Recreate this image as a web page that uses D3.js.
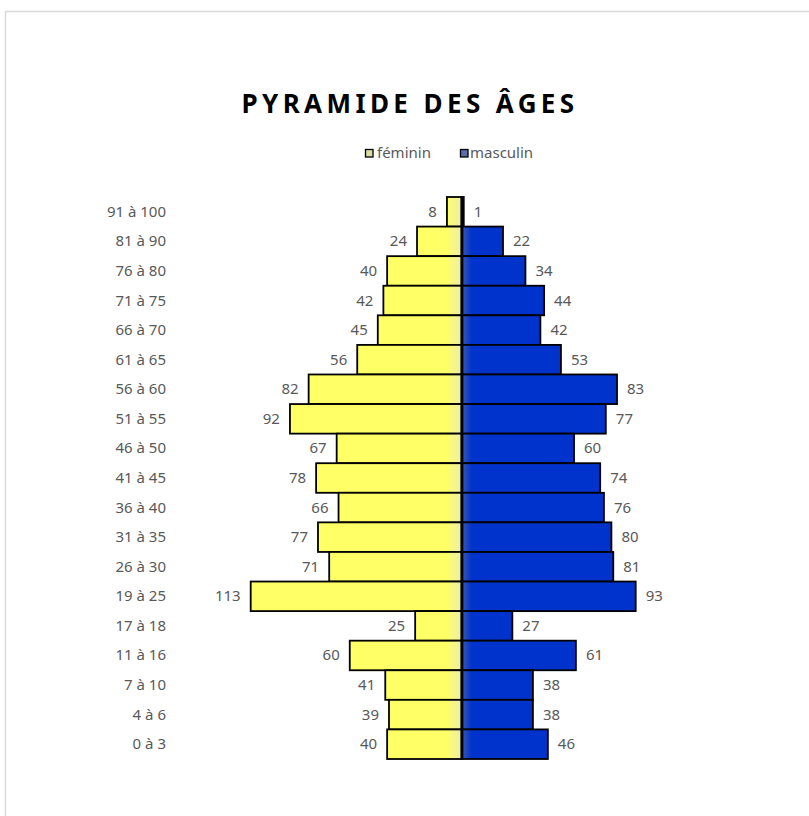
<!DOCTYPE html>
<html>
<head>
<meta charset="utf-8">
<script src="https://cdn.jsdelivr.net/npm/d3@7"></script>
<style>
  body { margin: 0; background: #fff; }
  svg { display: block; font-family: "Noto Sans", "Open Sans", sans-serif; }
</style>
</head>
<body>
<svg width="809" height="816"></svg>
<script>
const ageGroups = ['91 à 100', '81 à 90', '76 à 80', '71 à 75', '66 à 70', '61 à 65',
  '56 à 60', '51 à 55', '46 à 50', '41 à 45', '36 à 40', '31 à 35', '26 à 30',
  '19 à 25', '17 à 18', '11 à 16', '7 à 10', '4 à 6', '0 à 3'];
const feminin = [8, 24, 40, 42, 45, 56, 82, 92, 67, 78, 66, 77, 71, 113, 25, 60, 41, 39, 40];
const masculin = [1, 22, 34, 44, 42, 53, 83, 77, 60, 74, 76, 80, 81, 93, 27, 61, 38, 38, 46];
const seriesNames = ['féminin', 'masculin'];

const svg = d3.select('svg');
const textGray = '#595959';

// chart frame
svg.append('rect')
    .attr('x', 5.5)
    .attr('y', 11.5)
    .attr('width', 830)
    .attr('height', 830)
    .attr('fill', 'none')
    .attr('stroke', '#d9d9d9')
    .attr('stroke-width', 1.5);

const x = d3.scaleLinear()
    .domain([-113, 93])
    .range([250.7, 635.7]);

const y = d3.scaleBand()
    .domain(ageGroups)
    .range([197, 759])
    .padding(0);

// soft shading next to the axis
const defs = svg.append('defs');
const yellowGrad = defs.append('linearGradient')
    .attr('id', 'gYellow')
    .attr('gradientUnits', 'userSpaceOnUse')
    .attr('x1', x(0) - 16).attr('x2', x(0))
    .attr('y1', 0).attr('y2', 0);
[['0%', '#ffff66'], ['100%', '#ededaa']]
  .forEach(([o, c]) => yellowGrad.append('stop').attr('offset', o).attr('stop-color', c));
const blueGrad = defs.append('linearGradient')
    .attr('id', 'gBlue')
    .attr('gradientUnits', 'userSpaceOnUse')
    .attr('x1', x(0)).attr('x2', x(0) + 10)
    .attr('y1', 0).attr('y2', 0);
[['0%', '#3a58b4'], ['100%', '#0033cc']]
  .forEach(([o, c]) => blueGrad.append('stop').attr('offset', o).attr('stop-color', c));

// title
svg.append('text')
    .attr('x', 410)
    .attr('y', 113)
    .attr('text-anchor', 'middle')
    .attr('font-size', 26)
    .attr('font-weight', 'bold')
    .attr('letter-spacing', 4.4)
    .attr('fill', '#000')
    .text('PYRAMIDE DES ÂGES');

// legend
const legendColors = ['#dcdca0', '#5a6ea8'];
const legendX = [365, 460];
seriesNames.forEach((name, i) => {
  const lg = svg.append('g').attr('transform', `translate(${legendX[i]}, 153)`);
  lg.append('rect')
      .attr('x', 0.5)
      .attr('y', -3.5)
      .attr('width', 7.5)
      .attr('height', 7.5)
      .attr('fill', legendColors[i])
      .attr('stroke', '#000')
      .attr('stroke-width', 1.3);
  lg.append('text')
      .attr('x', i === 0 ? 12 : 10)
      .attr('y', 5)
      .attr('font-size', 15)
      .attr('fill', textGray)
      .text(name);
});

// category labels
svg.append('g')
  .selectAll('text')
  .data(ageGroups)
  .join('text')
    .attr('x', 166)
    .attr('y', d => y(d) + y.bandwidth() / 2 + 5)
    .attr('text-anchor', 'end')
    .attr('font-size', 15)
    .attr('fill', textGray)
    .text(d => d);

const rows = ageGroups.map((g, i) => ({ group: g, f: feminin[i], m: masculin[i] }));

// bars
svg.append('g')
  .selectAll('rect')
  .data(rows)
  .join('rect')
    .attr('x', d => x(-d.f))
    .attr('y', d => y(d.group))
    .attr('width', d => x(0) - x(-d.f))
    .attr('height', y.bandwidth())
    .attr('fill', 'url(#gYellow)')
    .attr('stroke', '#000')
    .attr('stroke-width', 1.8);

svg.append('g')
  .selectAll('rect')
  .data(rows)
  .join('rect')
    .attr('x', x(0))
    .attr('y', d => y(d.group))
    .attr('width', d => x(d.m) - x(0))
    .attr('height', y.bandwidth())
    .attr('fill', 'url(#gBlue)')
    .attr('stroke', '#000')
    .attr('stroke-width', 1.8);

// central axis
svg.append('line')
    .attr('x1', x(0))
    .attr('x2', x(0))
    .attr('y1', y.range()[0])
    .attr('y2', y.range()[1])
    .attr('stroke', '#000')
    .attr('stroke-width', 3);

// data labels
svg.append('g')
  .selectAll('text')
  .data(rows)
  .join('text')
    .attr('x', d => x(-d.f) - 10)
    .attr('y', d => y(d.group) + y.bandwidth() / 2 + 5)
    .attr('text-anchor', 'end')
    .attr('font-size', 15)
    .attr('fill', textGray)
    .text(d => d.f);

svg.append('g')
  .selectAll('text')
  .data(rows)
  .join('text')
    .attr('x', d => x(d.m) + 10)
    .attr('y', d => y(d.group) + y.bandwidth() / 2 + 5)
    .attr('font-size', 15)
    .attr('fill', textGray)
    .text(d => d.m);
</script>
</body>
</html>
